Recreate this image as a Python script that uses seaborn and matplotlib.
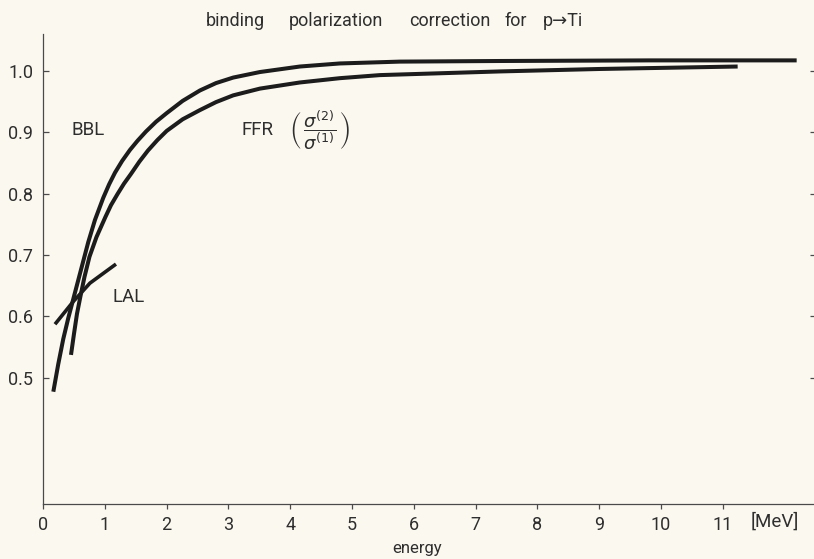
import matplotlib
matplotlib.use("Agg")
import matplotlib.pyplot as plt
import seaborn as sns
import pandas as pd

# Binding-polarization correction curves (energy in MeV)
bbl_energy = [0.167, 0.247, 0.328, 0.409, 0.490, 0.571, 0.652, 0.733, 0.841, 0.975,
              1.07, 1.165, 1.28, 1.407, 1.53, 1.666, 1.83, 2.001, 2.26, 2.540, 2.80,
              3.078, 3.510, 4.157, 4.804, 5.775, 7.392, 9.819, 12.197]
bbl_value = [0.477, 0.522, 0.563, 0.597, 0.628, 0.659, 0.690, 0.721, 0.757, 0.793,
             0.815, 0.834, 0.853, 0.871, 0.886, 0.901, 0.917, 0.931, 0.951, 0.968, 0.980,
             0.989, 0.998, 1.007, 1.012, 1.015, 1.016, 1.017, 1.017]

ffr_energy = [0.453, 0.501, 0.550, 0.607, 0.671, 0.752, 0.865, 1.011, 1.10, 1.205,
              1.31, 1.424, 1.56, 1.698, 1.85, 2.001, 2.26, 2.540, 2.80, 3.078, 3.510,
              4.157, 4.804, 5.451, 6.422, 7.392, 9.010, 11.242]
ffr_value = [0.537, 0.571, 0.604, 0.633, 0.664, 0.697, 0.729, 0.762, 0.781, 0.799,
             0.816, 0.832, 0.852, 0.870, 0.887, 0.902, 0.921, 0.936, 0.949, 0.960, 0.971,
             0.981, 0.988, 0.993, 0.996, 0.999, 1.003, 1.007]

lal_energy = [0.194, 0.490, 0.760, 1.181]
lal_value = [0.587, 0.624, 0.654, 0.685]

x_ticks = list(range(0, 12))
y_ticks = [0.5, 0.6, 0.7, 0.8, 0.9, 1.0]
y_tick_labels = ["0.5", "0.6", "0.7", "0.8", "0.9", "1.0"]

title_words = ["binding", "polarization", "correction", "for", "p\u2192Ti"]
title_word_center = [235, 336, 450, 516, 563]

df = pd.concat([
    pd.DataFrame({"energy": bbl_energy, "value": bbl_value, "curve": "BBL"}),
    pd.DataFrame({"energy": ffr_energy, "value": ffr_value, "curve": "FFR"}),
    pd.DataFrame({"energy": lal_energy, "value": lal_value, "curve": "LAL"}),
], ignore_index=True)

sns.set_theme(style="ticks")
paper = "#fbf8ef"
ink = "#1c1c1c"
text_col = "#2e2e2e"
axis_col = "#4a4a4a"
plt.rcParams["font.family"] = ["Roboto", "DejaVu Sans"]
plt.rcParams["mathtext.fontset"] = "dejavusans"

fig = plt.figure(figsize=(8.14, 5.59), dpi=100, facecolor=paper)
ax = fig.add_axes([43 / 814, 55 / 559, 773 / 814, 470 / 559])
ax.set_facecolor(paper)

for name, lw in [("BBL", 2.9), ("FFR", 2.9), ("LAL", 2.6)]:
    sns.lineplot(data=df[df["curve"] == name], x="energy", y="value",
                 sort=False, estimator=None, color=ink, linewidth=lw,
                 solid_capstyle="butt", solid_joinstyle="round",
                 ax=ax, legend=False)

ax.set_xlim(0, 12.51)
ax.set_ylim(0.294, 1.060)

for side in ("top", "right"):
    ax.spines[side].set_visible(False)
for side in ("left", "bottom"):
    ax.spines[side].set_color(axis_col)
    ax.spines[side].set_linewidth(0.9)

ax.set_xticks(x_ticks)
ax.set_xticklabels([str(t) for t in x_ticks])
ax.set_yticks(y_ticks)
ax.set_yticklabels(y_tick_labels)
ax.tick_params(axis="x", direction="out", length=3.5, width=0.9, color=axis_col,
               labelsize=13, labelcolor=text_col, pad=5)
ax.tick_params(axis="y", direction="in", length=4.5, width=0.9, color=axis_col,
               labelsize=13, labelcolor=text_col, pad=7, right=True)
ax.set_xlabel("")
ax.set_ylabel("")

# curve labels
ax.text(0.46, 0.904, "BBL", fontsize=13.5, color=text_col, va="center", ha="left")
ax.text(1.12, 0.631, "LAL", fontsize=13.5, color=text_col, va="center", ha="left")
ax.text(3.22, 0.904, "FFR", fontsize=13.5, color=text_col, va="center", ha="left")
ax.text(3.98, 0.904, r"$\left(\,\dfrac{\sigma^{(2)}}{\sigma^{(1)}}\,\right)$",
        fontsize=13, color=text_col, va="center", ha="left")

# title, one word at a time for the wide hand-lettered spacing
for word, center in zip(title_words, title_word_center):
    fig.text(center / 814, 1 - 21 / 559, word, fontsize=13, color=text_col,
             ha="center", va="center")

fig.text(417 / 814, 1 - 549 / 559, "energy", fontsize=12, color=text_col,
         ha="center", va="center")
fig.text(775 / 814, 1 - 522 / 559, "[MeV]", fontsize=13.5, color=text_col,
         ha="center", va="center")

fig.savefig("out.png", dpi=100, facecolor=paper)
